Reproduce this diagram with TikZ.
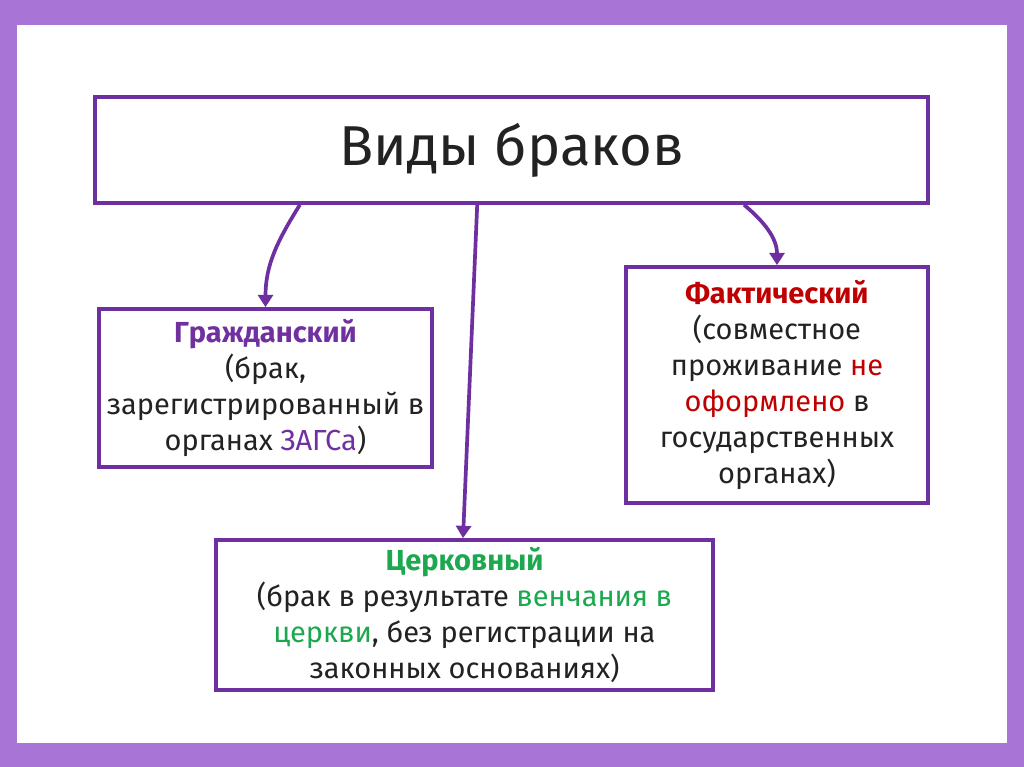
\documentclass[tikz,border=0pt]{standalone}
\usepackage{fontspec}
\setmainfont{Fira Sans}
\usetikzlibrary{positioning,arrows.meta,calc}
\definecolor{framepurple}{HTML}{A875D6}
\definecolor{boxpurple}{HTML}{6E2FA0}
\definecolor{txtpurple}{HTML}{7030A0}
\definecolor{txtred}{HTML}{C00000}
\definecolor{txtgreen}{HTML}{1DA850}
\definecolor{txtdark}{HTML}{222222}
\tikzset{
  kind/.style={draw=boxpurple, line width=2.1pt, fill=white, align=center,
    text=txtdark, inner sep=0pt, font=\fontsize{16.5}{20.5}\selectfont},
  link/.style={draw=boxpurple, line width=2.1pt,
    -{Triangle[width=8.5pt,length=7pt]}}
}
\begin{document}
\begin{tikzpicture}[x=0.02cm,y=-0.02cm]
  \fill[framepurple] (0,0) rectangle (1024,767);
  \fill[white] (17,25) rectangle (1007,743);
  \useasboundingbox (0,0) rectangle (1024,767);
  \node[kind, minimum width=16.66cm, minimum height=2.12cm,
    font=\fontsize{32}{38}\selectfont] (types) at (511.5,150) {Виды браков};
  \node[kind, minimum width=6.66cm, minimum height=3.16cm] (civil) at (265.5,388)
    {\textcolor{txtpurple}{\bfseries Гражданский}\\(брак,\\зарегистрированный в\\органах \textcolor{txtpurple}{ЗАГСа})};
  \node[kind, minimum width=6.04cm, minimum height=4.72cm] (actual) at (777,385)
    {\textcolor{txtred}{\bfseries Фактический}\\(совместное\\проживание \textcolor{txtred}{не}\\\textcolor{txtred}{оформлено} в\\государственных\\органах)};
  \node[kind, minimum width=9.94cm, minimum height=3.0cm] (church) at (464.5,615)
    {\textcolor{txtgreen}{\bfseries Церковный}\\(брак в результате \textcolor{txtgreen}{венчания в}\\\textcolor{txtgreen}{церкви}, без регистрации на\\законных основаниях)};
  % arrows from the title
  \draw[link] ($(types.south west)!0.247!(types.south east)$) to[out=-122,in=90] (civil.north);
  \draw[link] ($(types.south west)!0.459!(types.south east)$) -- ([xshift=-0.03cm]church.north);
  \draw[link] ($(types.south west)!0.778!(types.south east)$) to[out=-40,in=90] (actual.north);
\end{tikzpicture}
\end{document}
